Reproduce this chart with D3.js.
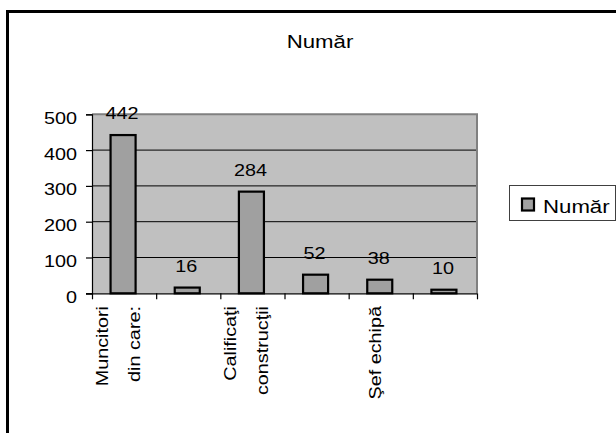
<!DOCTYPE html>
<html>
<head>
<meta charset="utf-8">
<script src="https://cdn.jsdelivr.net/npm/d3@7/dist/d3.min.js"></script>
<style>
  html, body { margin: 0; padding: 0; background: #fff; }
  svg { display: block; }
  text { font-family: "Liberation Sans", Arial, sans-serif; fill: #000; }
</style>
</head>
<body>
<svg id="chart" width="616" height="433"></svg>
<script>
// Worker counts per category; only some category labels are shown on the axis
const categories = [["Muncitori", "din care:"], [], ["Calificaţi", "construcţii"], [], ["Şef echipă"], []];
const values = [442, 16, 284, 52, 38, 10];
const yTicks = [0, 100, 200, 300, 400, 500];
const seriesName = "Număr";
const chartTitle = "Număr";

const svg = d3.select("#chart");
const plot = { left: 92, right: 477, top: 114.3, bottom: 293.3 };
const WIDE = 1.2; // glyphs are drawn a little wider than the stock face

function widen(sel) {
  sel.each(function () {
    const L = this.getComputedTextLength();
    this.setAttribute("textLength", L * WIDE);
    this.setAttribute("lengthAdjust", "spacingAndGlyphs");
  });
}

// outer chart frame
svg.append("rect")
  .attr("x", 7.5).attr("y", 11.5).attr("width", 640).attr("height", 460)
  .attr("fill", "#fff").attr("stroke", "#000").attr("stroke-width", 3);

const x = d3.scaleBand().domain(d3.range(values.length))
  .range([plot.left, plot.right]).padding(0);
const xEdge = d3.scaleLinear().domain([0, values.length]).range([plot.left, plot.right]);
const y = d3.scaleLinear().domain([0, 500]).range([plot.bottom, plot.top]);

// plot area
svg.append("rect")
  .attr("x", plot.left).attr("y", plot.top)
  .attr("width", plot.right - plot.left).attr("height", plot.bottom - plot.top)
  .attr("fill", "#c0c0c0");

// gridlines
svg.append("g").selectAll("line")
  .data(yTicks.filter(v => v > 0 && v < 500))
  .join("line")
  .attr("x1", plot.left).attr("x2", plot.right)
  .attr("y1", d => y(d)).attr("y2", d => y(d))
  .attr("stroke", "#000").attr("stroke-width", 1);

// plot border (top and right)
svg.append("path")
  .attr("d", `M${plot.left},${plot.top}H${plot.right}V${plot.bottom}`)
  .attr("fill", "none").attr("stroke", "#808080").attr("stroke-width", 2);

// bars
const barW = x.bandwidth() * 0.39;
svg.append("g").selectAll("rect")
  .data(values)
  .join("rect")
  .attr("x", (d, i) => x(i) + x.bandwidth() / 2 - barW / 2 - 1)
  .attr("y", d => y(d))
  .attr("width", barW)
  .attr("height", d => y(0) - y(d))
  .attr("fill", "#a0a0a0")
  .attr("stroke", "#000").attr("stroke-width", 2.2);

// value labels
const vl = svg.append("g").selectAll("text")
  .data(values)
  .join("text")
  .attr("x", (d, i) => x(i) + x.bandwidth() / 2 - 2)
  .attr("y", d => y(d) - 16)
  .attr("text-anchor", "middle")
  .attr("font-size", 16.5)
  .text(d => d);
widen(vl);

// y axis
const yAxis = svg.append("g")
  .attr("transform", `translate(${plot.left},0)`)
  .call(d3.axisLeft(y).tickValues(yTicks).tickSize(6).tickPadding(9));
yAxis.select(".domain").attr("stroke", "#000").attr("stroke-width", 1.2);
yAxis.selectAll(".tick line").attr("stroke", "#000").attr("stroke-width", 1.2);
yAxis.selectAll(".tick text")
  .attr("font-family", "Liberation Sans, Arial, sans-serif")
  .attr("font-size", 16.5).attr("fill", "#000").attr("dy", 9);
widen(yAxis.selectAll(".tick text"));

// x axis with ticks between categories
const xAxis = svg.append("g")
  .attr("transform", `translate(0,${plot.bottom})`)
  .call(d3.axisBottom(xEdge).tickValues(d3.range(values.length + 1)).tickSize(6).tickFormat(""));
xAxis.select(".domain").attr("stroke", "#000").attr("stroke-width", 1.2)
  .attr("d", `M${plot.left - 6},0.5H${plot.right}`);
xAxis.selectAll(".tick line").attr("stroke", "#000").attr("stroke-width", 1.2);

// rotated category labels
const lineGap = 32;
categories.forEach((lines, i) => {
  const cx = x(i) + x.bandwidth() / 2;
  lines.forEach((ln, j) => {
    const bx = cx + (j - (lines.length - 1) / 2) * lineGap;
    const t = svg.append("text")
      .attr("transform", `translate(${bx},306) rotate(-90)`)
      .attr("text-anchor", "end")
      .attr("font-size", 16.5)
      .text(ln);
    widen(t);
  });
});

// title
widen(svg.append("text")
  .attr("x", 320).attr("y", 48.3)
  .attr("text-anchor", "middle")
  .attr("font-size", 18.5)
  .text(chartTitle));

// legend
const lg = svg.append("g");
lg.append("rect")
  .attr("x", 509.5).attr("y", 185.5).attr("width", 106).attr("height", 35)
  .attr("fill", "#fff").attr("stroke", "#404040").attr("stroke-width", 1);
lg.append("rect")
  .attr("x", 522).attr("y", 198.5).attr("width", 12).attr("height", 12)
  .attr("fill", "#a0a0a0").attr("stroke", "#000").attr("stroke-width", 2.2);
widen(lg.append("text")
  .attr("x", 543).attr("y", 212.7)
  .attr("font-size", 18.5)
  .text(seriesName));
</script>
</body>
</html>
